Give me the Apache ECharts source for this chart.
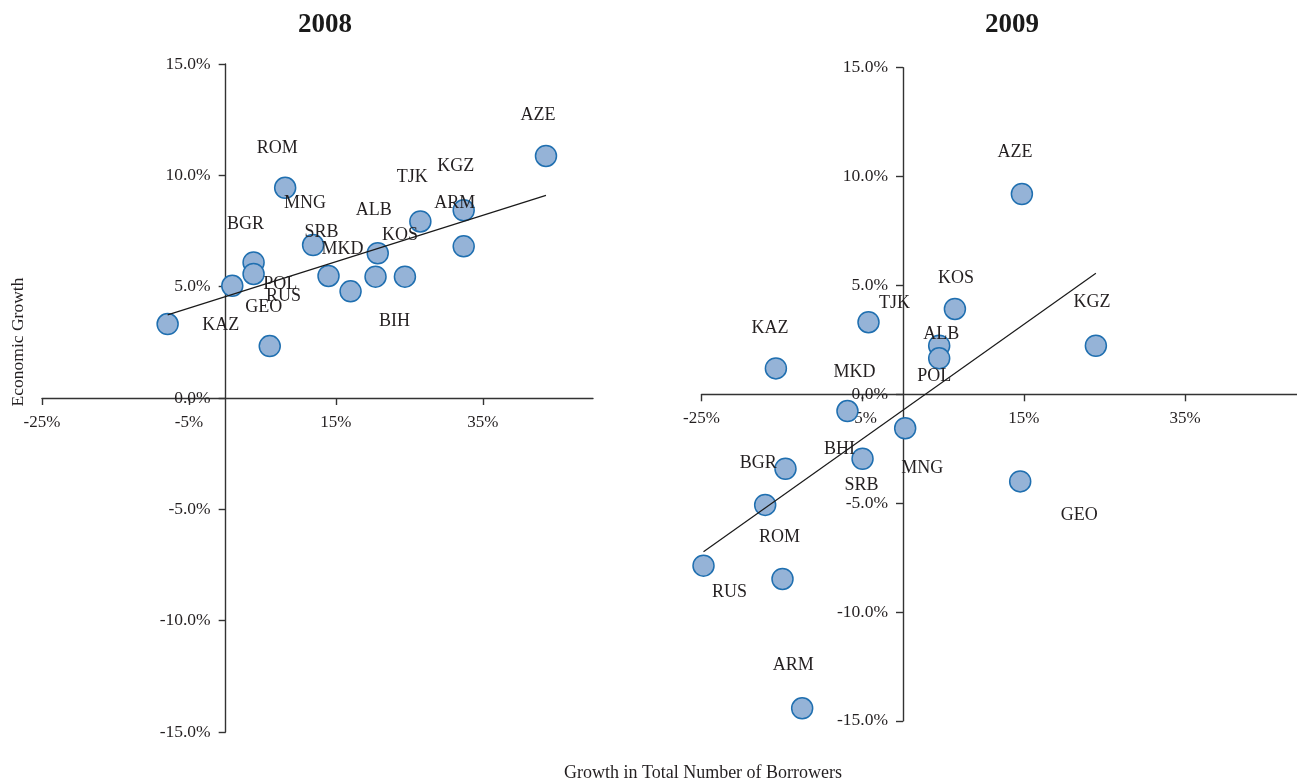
<!DOCTYPE html>
<html>
<head>
<meta charset="utf-8">
<script src="https://cdn.jsdelivr.net/npm/echarts@6/dist/echarts.min.js"></script>
<style>
html,body{margin:0;padding:0;background:#fff;}
#chart{width:1297px;height:781px;}
</style>
</head>
<body>
<div id="chart"></div>
<script>
// ---------- data ----------
const countries2008 = ['AZE','KGZ','TJK','ARM','ALB','KOS','MKD','SRB','MNG','ROM','BGR','RUS','POL','GEO','KAZ','BIH'];
const borrowers2008 = [43.6, 32.4, 26.5, 32.4, 20.7, 24.4, 17.0, 14.0, 11.9, 8.1, 3.8, 3.8, 0.9, 6.0, -7.9, 20.4];
const growth2008    = [10.87, 8.43, 7.93, 6.81, 6.50, 5.45, 4.79, 5.48, 6.87, 9.44, 6.09, 5.57, 5.04, 2.33, 3.32, 5.45];
const trend2008 = [[-7.9, 3.73], [43.6, 9.10]];

const countries2009 = ['AZE','KOS','TJK','KGZ','ALB','POL','KAZ','MKD','MNG','BHI','SRB','BGR','ROM','RUS','ARM','GEO'];
const borrowers2009 = [14.75, 6.44, -4.28, 23.93, 4.49, 4.49, -15.77, -6.89, 0.27, -5.02, -14.58, -17.1, -14.95, -24.75, -12.51, 14.54];
const growth2009    = [9.20, 3.92, 3.31, 2.23, 2.23, 1.65, 1.19, -0.77, -1.56, -2.96, -3.42, -5.08, -8.48, -7.87, -14.42, -4.00];
const trend2009 = [[-24.75, -7.23], [23.93, 5.56]];

const xTicks = [-25, -5, 15, 35];
const panelTitles = ['2008', '2009'];
const xAxisTitle = 'Growth in Total Number of Borrowers';
const yAxisTitle = 'Economic Growth';

// ---------- label placement (pixel offsets from marker centre) ----------
const labelOffsets2008 = {
  AZE:[-8,-41], KGZ:[-8,-44], TJK:[-8,-44], ARM:[-9,-43], ALB:[-4,-43], KOS:[-5,-41],
  MKD:[-8,-42], SRB:[-7,-44], MNG:[-8,-42], ROM:[-8,-40], BGR:[-8,-38], RUS:[30,22],
  POL:[48,-2], GEO:[-6,-39], KAZ:[53,1], BIH:[19,45]
};
const labelOffsets2009 = {
  AZE:[-7,-42], KOS:[1,-31], TJK:[26,-19], KGZ:[-4,-43], ALB:[2,-11], POL:[-5,18],
  KAZ:[-6,-40], MKD:[7,-39], MNG:[17,40], BHI:[-23,-9], SRB:[76,17], BGR:[-7,-42],
  ROM:[-3,-42], RUS:[26,27], ARM:[-9,-43], GEO:[59,34]
};

const FONT = '"Liberation Serif", "DejaVu Serif", serif';
const TXT = '#231f20';
const AX = '#333333';
const X_MIN = -25, X_MAX = 50, Y_MIN = -15, Y_MAX = 15;

const grids = [
  { left: 42, top: 64, width: 551, height: 668 },
  { left: 701.5, top: 67.7, width: 604.5, height: 653.2 }
];

function points(names, xs, ys, offsets) {
  return names.map((n, i) => ({
    name: n,
    value: [xs[i], ys[i]],
    label: { offset: offsets[n] }
  }));
}

// axes are placed so they cross at zero (labels travel with the lines)
function xAxisDef(idx) {
  const g = grids[idx];
  const zeroFromBottom = g.height * (0 - Y_MIN) / (Y_MAX - Y_MIN);
  return {
    type: 'value', gridIndex: idx, min: X_MIN, max: X_MAX, position: 'bottom',
    offset: -zeroFromBottom,
    axisLine: { onZero: false, lineStyle: { color: AX, width: 1.4 } },
    axisTick: { show: true, length: 7, customValues: xTicks, lineStyle: { color: AX, width: 1.4 } },
    axisLabel: { customValues: xTicks, formatter: v => v + '%', margin: 16,
      fontFamily: FONT, fontSize: 17, color: TXT },
    splitLine: { show: false }
  };
}
function yAxisDef(idx) {
  const g = grids[idx];
  const zeroFromLeft = g.width * (0 - X_MIN) / (X_MAX - X_MIN);
  return {
    type: 'value', gridIndex: idx, min: Y_MIN, max: Y_MAX, interval: 5, position: 'left',
    offset: -zeroFromLeft,
    axisLine: { onZero: false, lineStyle: { color: AX, width: 1.4 } },
    axisTick: { show: true, length: 7, lineStyle: { color: AX, width: 1.4 } },
    axisLabel: { formatter: v => v.toFixed(1) + '%', margin: 15,
      fontFamily: FONT, fontSize: 17.5, color: TXT },
    splitLine: { show: false }
  };
}

const scatterStyle = {
  type: 'scatter', symbol: 'circle', symbolSize: 21, z: 3,
  itemStyle: { color: '#95b3d7', borderColor: '#1f6fb0', borderWidth: 1.5, opacity: 1 },
  label: { show: true, position: 'inside', formatter: '{b}', fontFamily: FONT, fontSize: 18, color: TXT },
  emphasis: { disabled: true }
};
const trendStyle = {
  type: 'line', symbol: 'none', z: 4, silent: true,
  lineStyle: { color: '#1a1a1a', width: 1.2 }
};

const chart = echarts.init(document.getElementById('chart'), null, { renderer: 'canvas' });
chart.setOption({
  animation: false,
  backgroundColor: '#fff',
  grid: grids.map(g => Object.assign({ outerBoundsMode: 'none', containLabel: false }, g)),
  xAxis: [xAxisDef(0), xAxisDef(1)],
  yAxis: [yAxisDef(0), yAxisDef(1)],
  series: [
    Object.assign({}, scatterStyle, { xAxisIndex: 0, yAxisIndex: 0,
      data: points(countries2008, borrowers2008, growth2008, labelOffsets2008) }),
    Object.assign({}, trendStyle, { xAxisIndex: 0, yAxisIndex: 0, data: trend2008 }),
    Object.assign({}, scatterStyle, { xAxisIndex: 1, yAxisIndex: 1,
      data: points(countries2009, borrowers2009, growth2009, labelOffsets2009) }),
    Object.assign({}, trendStyle, { xAxisIndex: 1, yAxisIndex: 1, data: trend2009 })
  ],
  graphic: [
    { type: 'text', x: 325, y: 25, style: { text: panelTitles[0], font: 'bold 27px ' + FONT, fill: '#1a1a1a', align: 'center', verticalAlign: 'middle' } },
    { type: 'text', x: 1012, y: 25, style: { text: panelTitles[1], font: 'bold 27px ' + FONT, fill: '#1a1a1a', align: 'center', verticalAlign: 'middle' } },
    { type: 'text', x: 703, y: 773, style: { text: xAxisTitle, font: '18px ' + FONT, fill: TXT, align: 'center', verticalAlign: 'middle' } },
    { type: 'text', x: 18, y: 342, rotation: Math.PI / 2, style: { text: yAxisTitle, font: '17.5px ' + FONT, fill: TXT, align: 'center', verticalAlign: 'middle' } }
  ]
});
</script>
</body>
</html>
